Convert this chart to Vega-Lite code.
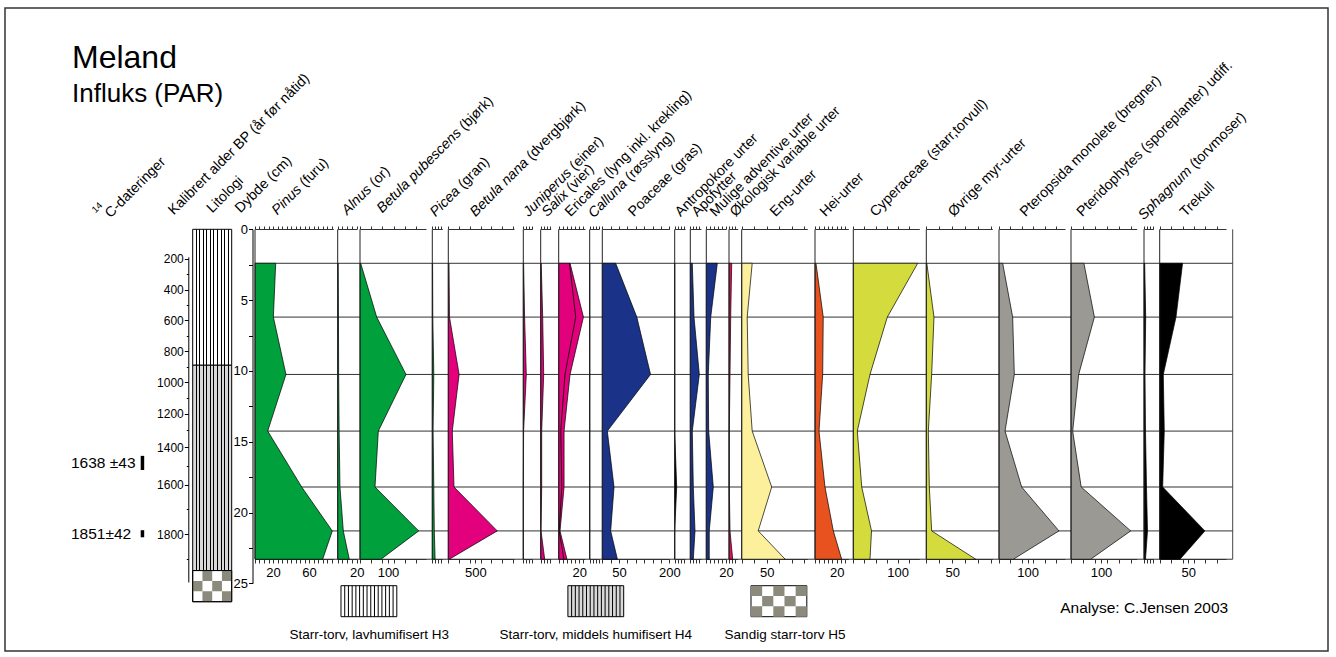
{
  "$schema": "https://vega.github.io/schema/vega-lite/v6.json",
  "width": 1323,
  "height": 643,
  "autosize": {"type": "none"},
  "padding": {"left": 5, "top": 8, "right": 8, "bottom": 6},
  "background": "#ffffff",
  "title": {
    "text": "Meland",
    "subtitle": "Influks (PAR)",
    "orient": "top",
    "anchor": "start",
    "frame": "group",
    "dx": 67,
    "offset": -100,
    "font": "Liberation Sans",
    "fontSize": 32,
    "fontWeight": "normal",
    "color": "#000",
    "subtitleFont": "Liberation Sans",
    "subtitleFontSize": 26,
    "subtitleColor": "#000",
    "subtitlePadding": 6
  },
  "datasets": {
    "samples": [
      {"depth": 2.4, "Pinus": 23, "Alnus": 0.5, "Betula_pubescens": 2.5, "Picea": 0.3, "Betula_nana": 13, "Juniperus": 0.3, "Salix": 0.5, "Ericales": 11, "Ericales_inner": 10.5, "Calluna": 0, "Poaceae": 40, "Antropokore": 0, "Apofytter": 2, "Mulige_adventive": 11.2, "Okologisk_variable": 2.7, "Eng_urter": 21, "Hei_urter": 0.9, "Cyperaceae": 145, "Ovrige_myr_urter": 1, "Pteropsida": 12.8, "Pteridophytes": 43, "Sphagnum": 0.7, "Trekull": 40},
      {"depth": 6.2, "Pinus": 20.4, "Alnus": 0.8, "Betula_pubescens": 59.6, "Picea": 0.5, "Betula_nana": 22, "Juniperus": 1.3, "Salix": 2, "Ericales": 24, "Ericales_inner": 16.5, "Calluna": 0, "Poaceae": 103, "Antropokore": 0, "Apofytter": 3.7, "Mulige_adventive": 4.5, "Okologisk_variable": 1.7, "Eng_urter": 11, "Hei_urter": 7.6, "Cyperaceae": 76.6, "Ovrige_myr_urter": 14.8, "Pteropsida": 47.6, "Pteridophytes": 78, "Sphagnum": 1.7, "Trekull": 28.5},
      {"depth": 10.25, "Pinus": 34.4, "Alnus": 1, "Betula_pubescens": 164.3, "Picea": 1.5, "Betula_nana": 200, "Juniperus": 3, "Salix": 3, "Ericales": 11, "Ericales_inner": 6.1, "Calluna": 0, "Poaceae": 144, "Antropokore": 0, "Apofytter": 9, "Mulige_adventive": 2, "Okologisk_variable": 1, "Eng_urter": 13, "Hei_urter": 7.1, "Cyperaceae": 37.6, "Ovrige_myr_urter": 10.3, "Pteropsida": 53.4, "Pteridophytes": 25.6, "Sphagnum": 1, "Trekull": 6.3},
      {"depth": 14.25, "Pinus": 14.1, "Alnus": 1.5, "Betula_pubescens": 65.4, "Picea": 0.8, "Betula_nana": 74, "Juniperus": 0.3, "Salix": 1, "Ericales": 5.2, "Ericales_inner": 2, "Calluna": 0, "Poaceae": 15, "Antropokore": 0, "Apofytter": 2, "Mulige_adventive": 2.4, "Okologisk_variable": 0.3, "Eng_urter": 21, "Hei_urter": 3.7, "Cyperaceae": 9, "Ovrige_myr_urter": 3.9, "Pteropsida": 21, "Pteridophytes": 5.6, "Sphagnum": 1.5, "Trekull": 8},
      {"depth": 18.2, "Pinus": 51.9, "Alnus": 2.4, "Betula_pubescens": 53.6, "Picea": 1.5, "Betula_nana": 106, "Juniperus": 0, "Salix": 1, "Ericales": 5.2, "Ericales_inner": 3, "Calluna": 0, "Poaceae": 35, "Antropokore": 2, "Apofytter": 3, "Mulige_adventive": 7.1, "Okologisk_variable": 0.3, "Eng_urter": 60, "Hei_urter": 9.2, "Cyperaceae": 19, "Ovrige_myr_urter": 5.8, "Pteropsida": 79, "Pteridophytes": 34, "Sphagnum": 2.5, "Trekull": 5.2},
      {"depth": 21.3, "Pinus": 85.9, "Alnus": 5.9, "Betula_pubescens": 209.6, "Picea": 2, "Betula_nana": 907, "Juniperus": 0, "Salix": 0.3, "Ericales": 1.3, "Ericales_inner": 0.5, "Calluna": 0, "Poaceae": 25, "Antropokore": 0, "Apofytter": 4.7, "Mulige_adventive": 3, "Okologisk_variable": 1, "Eng_urter": 33, "Hei_urter": 16.9, "Cyperaceae": 41, "Ovrige_myr_urter": 10.3, "Pteropsida": 209, "Pteridophytes": 199, "Sphagnum": 3.5, "Trekull": 79},
      {"depth": 23.3, "Pinus": 75.2, "Alnus": 12.2, "Betula_pubescens": 75, "Picea": 2.8, "Betula_nana": 18.5, "Juniperus": 0, "Salix": 4, "Ericales": 8, "Ericales_inner": 5, "Calluna": 0, "Poaceae": 45, "Antropokore": 0, "Apofytter": 3, "Mulige_adventive": 3, "Okologisk_variable": 3.7, "Eng_urter": 87, "Hei_urter": 24.6, "Cyperaceae": 37.6, "Ovrige_myr_urter": 95, "Pteropsida": 50, "Pteridophytes": 65.6, "Sphagnum": 1.5, "Trekull": 35.5}
    ],
    "frame": [{}],
    "credit": [{"text": "Analyse: C.Jensen 2003"}],
    "litho": [
      {"unit": "H3", "top": 0, "bottom": 9.6},
      {"unit": "H4", "top": 9.6, "bottom": 24.1},
      {"unit": "H5", "top": 24.1, "bottom": 26.3}
    ],
    "dates": [
      {"date": "1638 ±43", "depth": 16.5, "top": 16.0, "bottom": 17.0},
      {"date": "1851±42", "depth": 21.5, "top": 21.25, "bottom": 21.75}
    ],
    "key": [
      {"slot": 0, "unit": "H3", "label": "Starr-torv, lavhumifisert H3"},
      {"slot": 1, "unit": "H4", "label": "Starr-torv, middels humifisert H4"},
      {"slot": 2, "unit": "H5", "label": "Sandig starr-torv H5"}
    ]
  },
  "data": {"name": "samples"},
  "resolve": {
    "scale": {"x": "independent", "y": "independent"},
    "axis": {"x": "independent", "y": "independent"}
  },
  "layer": [
    {
      "mark": {"type": "rule", "color": "#333", "strokeWidth": 1},
      "encoding": {
        "x": {"datum": 0, "type": "quantitative", "scale": {"domain": [0, 1], "range": [250, 1227.7], "nice": false}, "axis": null},
        "x2": {"datum": 1},
        "y": {"field": "depth", "type": "quantitative", "scale": {"domain": [0, 25], "range": [221.3, 575.3], "nice": false},
          "axis": {"orient": "left", "offset": -247.5, "values": [0, 2.5, 5, 7.5, 10, 12.5, 15, 17.5, 20, 22.5, 25], "labelExpr": "datum.value % 5 === 0 ? datum.label : ''", "tickSize": 4, "labelPadding": 1, "domainColor": "#000", "tickColor": "#000", "title": "Dybde (cm)", "titleX": -12.5, "titleY": 205}}
      }
    },
    {
      "data": {"name": "frame"},
      "mark": {"type": "rule", "color": "#444", "strokeWidth": 1},
      "encoding": {
        "x": {"datum": 1, "type": "quantitative", "scale": {"domain": [0, 1], "range": [250, 1227.7], "nice": false}, "axis": null},
        "y": {"datum": 0, "type": "quantitative", "scale": {"domain": [0, 25], "range": [221.3, 575.3], "nice": false}, "axis": null},
        "y2": {"datum": 23.3}
      }
    },
    {
      "data": {"name": "credit"},
      "mark": {"type": "text", "align": "right", "baseline": "middle", "dx": -4.5, "fontSize": 15.5, "font": "Liberation Sans", "color": "#000"},
      "encoding": {
        "x": {"datum": 1, "type": "quantitative", "scale": {"domain": [0, 1], "range": [250, 1227.7], "nice": false}, "axis": null},
        "y": {"datum": 26.74, "type": "quantitative", "scale": {"domain": [0, 25], "range": [221.3, 575.3], "nice": false}, "axis": null},
        "text": {"field": "text"}
      }
    },
    {
      "data": {"name": "frame"},
      "mark": {"type": "rule", "opacity": 0},
      "encoding": {
        "x": {"datum": 0, "type": "quantitative", "scale": {"domain": [0, 1], "range": [183.3, 184.3], "nice": false}, "axis": null},
        "y": {"datum": 200, "type": "quantitative",
          "scale": {"domain": [190, 200, 400, 600, 800, 1000, 1200, 1400, 1600, 1800, 1990], "range": [248.8, 250.5, 281.5, 312.3, 343.2, 374, 405.5, 439, 476.5, 526.3, 574], "nice": false},
          "axis": {"orient": "left", "offset": -183.3, "values": [200, 300, 400, 500, 600, 700, 800, 900, 1000, 1100, 1200, 1300, 1400, 1500, 1600, 1700, 1800, 1900], "format": "d", "labelExpr": "datum.value % 200 === 0 ? datum.label : ''", "tickSize": {"condition": {"test": "datum.value % 200 === 0", "value": 4}, "value": 2}, "labelFontSize": 12, "labelPadding": 1, "domainColor": "#000", "tickColor": "#000", "title": "Kalibrert alder BP (år før nåtid)", "titleX": -15, "titleY": 207}},
        "y2": {"datum": 1800}
      }
    },
    {
      "data": {"name": "litho"},
      "mark": {"type": "rect", "stroke": "#000", "strokeWidth": 1},
      "encoding": {
        "x": {"datum": 0, "type": "quantitative", "scale": {"domain": [0, 1], "range": [187.7, 226.7], "nice": false},
          "axis": {"orient": "top", "offset": -221, "domain": false, "ticks": false, "labels": false, "title": "Litologi", "titleX": 206.7, "titleY": -16}},
        "x2": {"datum": 1},
        "y": {"field": "top", "type": "quantitative", "scale": {"domain": [0, 25], "range": [221.3, 575.3], "nice": false}, "axis": null},
        "y2": {"field": "bottom"},
        "fill": {"condition": {"test": "datum.unit === 'H4'", "value": "#d9d9d9"}, "value": "#ffffff"}
      }
    },
    {
      "data": {"name": "litho"},
      "transform": [{"filter": "datum.unit !== 'H5'"}],
      "mark": {"type": "rect", "fill": {"gradient": "linear", "x1": 0, "y1": 0, "x2": 1, "y2": 0, "stops": [
        {"offset": 0, "color": "rgba(0,0,0,0)"},
        {"offset": 0.0779, "color": "rgba(0,0,0,0)"}, {"offset": 0.0779, "color": "#000"}, {"offset": 0.1039, "color": "#000"}, {"offset": 0.1039, "color": "rgba(0,0,0,0)"},
        {"offset": 0.1688, "color": "rgba(0,0,0,0)"}, {"offset": 0.1688, "color": "#000"}, {"offset": 0.1948, "color": "#000"}, {"offset": 0.1948, "color": "rgba(0,0,0,0)"},
        {"offset": 0.2597, "color": "rgba(0,0,0,0)"}, {"offset": 0.2597, "color": "#000"}, {"offset": 0.2857, "color": "#000"}, {"offset": 0.2857, "color": "rgba(0,0,0,0)"},
        {"offset": 0.3506, "color": "rgba(0,0,0,0)"}, {"offset": 0.3506, "color": "#000"}, {"offset": 0.3766, "color": "#000"}, {"offset": 0.3766, "color": "rgba(0,0,0,0)"},
        {"offset": 0.4415, "color": "rgba(0,0,0,0)"}, {"offset": 0.4415, "color": "#000"}, {"offset": 0.4675, "color": "#000"}, {"offset": 0.4675, "color": "rgba(0,0,0,0)"},
        {"offset": 0.5325, "color": "rgba(0,0,0,0)"}, {"offset": 0.5325, "color": "#000"}, {"offset": 0.5585, "color": "#000"}, {"offset": 0.5585, "color": "rgba(0,0,0,0)"},
        {"offset": 0.6234, "color": "rgba(0,0,0,0)"}, {"offset": 0.6234, "color": "#000"}, {"offset": 0.6494, "color": "#000"}, {"offset": 0.6494, "color": "rgba(0,0,0,0)"},
        {"offset": 0.7143, "color": "rgba(0,0,0,0)"}, {"offset": 0.7143, "color": "#000"}, {"offset": 0.7403, "color": "#000"}, {"offset": 0.7403, "color": "rgba(0,0,0,0)"},
        {"offset": 0.8052, "color": "rgba(0,0,0,0)"}, {"offset": 0.8052, "color": "#000"}, {"offset": 0.8312, "color": "#000"}, {"offset": 0.8312, "color": "rgba(0,0,0,0)"},
        {"offset": 0.8961, "color": "rgba(0,0,0,0)"}, {"offset": 0.8961, "color": "#000"}, {"offset": 0.9221, "color": "#000"}, {"offset": 0.9221, "color": "rgba(0,0,0,0)"},
        {"offset": 1, "color": "rgba(0,0,0,0)"}
      ]}},
      "encoding": {
        "x": {"datum": 0, "type": "quantitative", "scale": {"domain": [0, 1], "range": [187.7, 226.7], "nice": false}, "axis": null},
        "x2": {"datum": 1},
        "y": {"field": "top", "type": "quantitative", "scale": {"domain": [0, 25], "range": [221.3, 575.3], "nice": false}, "axis": null},
        "y2": {"field": "bottom"}
      }
    },
    {
      "data": {"name": "litho"},
      "transform": [{"filter": "datum.unit === 'H5'"}],
      "mark": {"type": "point", "shape": "M-1.95,0H0V2.08H-1.95Z M1.95,0H3.9V2.08H1.95Z M-3.9,2.08H-1.95V4.16H-3.9Z M0,2.08H1.95V4.16H0Z M-1.95,4.16H0V6.24H-1.95Z M1.95,4.16H3.9V6.24H1.95Z", "size": 100, "filled": true, "color": "#8b8a7c", "fill": "#8b8a7c", "strokeWidth": 0, "opacity": 1},
      "encoding": {
        "x": {"datum": 0.5, "type": "quantitative", "scale": {"domain": [0, 1], "range": [187.7, 226.7], "nice": false}, "axis": null},
        "y": {"field": "top", "type": "quantitative", "scale": {"domain": [0, 25], "range": [221.3, 575.3], "nice": false}, "axis": null}
      }
    },
    {
      "data": {"name": "litho"},
      "transform": [{"filter": "datum.unit === 'H5'"}],
      "mark": {"type": "rect", "fillOpacity": 0, "stroke": "#000", "strokeWidth": 1},
      "encoding": {
        "x": {"datum": 0, "type": "quantitative", "scale": {"domain": [0, 1], "range": [187.7, 226.7], "nice": false}, "axis": null},
        "x2": {"datum": 1},
        "y": {"field": "top", "type": "quantitative", "scale": {"domain": [0, 25], "range": [221.3, 575.3], "nice": false}, "axis": null},
        "y2": {"field": "bottom"}
      }
    },
    {
      "data": {"name": "dates"},
      "mark": {"type": "text", "align": "left", "baseline": "middle", "fontSize": 15.5, "font": "Liberation Sans", "color": "#000"},
      "encoding": {
        "x": {"datum": 0, "type": "quantitative", "scale": {"domain": [0, 1], "range": [66, 67], "nice": false},
          "axis": {"orient": "top", "offset": -221, "domain": false, "ticks": false, "labels": false, "title": "C-dateringer", "titleX": 105, "titleY": -11}},
        "y": {"field": "depth", "type": "quantitative", "scale": {"domain": [0, 25], "range": [221.3, 575.3], "nice": false}, "axis": null},
        "text": {"field": "date"}
      }
    },
    {
      "data": {"name": "dates"},
      "mark": {"type": "rect", "color": "#000"},
      "encoding": {
        "x": {"datum": 0, "type": "quantitative", "scale": {"domain": [0, 1], "range": [135.7, 139.2], "nice": false},
          "axis": {"orient": "top", "offset": -221, "domain": false, "ticks": false, "labels": false, "title": "14", "titleFontSize": 9.5, "titleX": 90, "titleY": -16}},
        "x2": {"datum": 1},
        "y": {"field": "top", "type": "quantitative", "scale": {"domain": [0, 25], "range": [221.3, 575.3], "nice": false}, "axis": null},
        "y2": {"field": "bottom"}
      }
    },

    {"mark": {"type": "area", "orient": "horizontal", "fill": "#00a03c", "stroke": "#000", "strokeWidth": 0.7},
     "encoding": {"y": {"field": "depth", "type": "quantitative", "scale": {"domain": [0, 25], "range": [221.3, 575.3], "nice": false}, "axis": null},
       "x": {"field": "Pinus", "type": "quantitative", "scale": {"domain": [0, 87], "range": [250, 328.3], "nice": false},
         "axis": {"orient": "bottom", "offset": -92, "values": [0, 5, 10, 15, 20, 25, 30, 35, 40, 45, 50, 55, 60, 65, 70, 75, 80, 85], "labelExpr": "datum.value === 20 || datum.value === 60 ? datum.label : ''", "title": "(furu)", "titleX": 299.6, "titleY": -371.9}}}},
    {"data": {"name": "frame"}, "mark": {"type": "rule", "color": "#222", "strokeWidth": 1},
     "encoding": {"x": {"datum": 0, "type": "quantitative", "scale": {"domain": [0, 87], "range": [250, 328.3], "nice": false},
         "axis": {"orient": "top", "offset": -221, "values": [0, 5, 10, 15, 20, 25, 30, 35, 40, 45, 50, 55, 60, 65, 70, 75, 80, 85], "labels": false, "title": "Pinus", "titleFontStyle": "italic", "titleX": 271.7, "titleY": -14}},
       "y": {"datum": 0, "type": "quantitative", "scale": {"domain": [0, 25], "range": [221.3, 575.3], "nice": false}, "axis": null}, "y2": {"datum": 23.3}}},

    {"mark": {"type": "area", "orient": "horizontal", "fill": "#00a03c", "stroke": "#000", "strokeWidth": 0.7},
     "encoding": {"y": {"field": "depth", "type": "quantitative", "scale": {"domain": [0, 25], "range": [221.3, 575.3], "nice": false}, "axis": null},
       "x": {"field": "Alnus", "type": "quantitative", "scale": {"domain": [0, 20], "range": [332.7, 351.7], "nice": false},
         "axis": {"orient": "bottom", "offset": -92, "values": [0, 5, 10, 15, 20], "labelExpr": "datum.value === 20 ? datum.label : ''", "title": "(or)", "titleX": 369.6, "titleY": -371.9}}}},
    {"data": {"name": "frame"}, "mark": {"type": "rule", "color": "#222", "strokeWidth": 1},
     "encoding": {"x": {"datum": 0, "type": "quantitative", "scale": {"domain": [0, 20], "range": [332.7, 351.7], "nice": false},
         "axis": {"orient": "top", "offset": -221, "values": [0, 5, 10, 15, 20], "labels": false, "title": "Alnus", "titleFontStyle": "italic", "titleX": 341.7, "titleY": -14}},
       "y": {"datum": 0, "type": "quantitative", "scale": {"domain": [0, 25], "range": [221.3, 575.3], "nice": false}, "axis": null}, "y2": {"datum": 23.3}}},

    {"mark": {"type": "area", "orient": "horizontal", "fill": "#00a03c", "stroke": "#000", "strokeWidth": 0.7},
     "encoding": {"y": {"field": "depth", "type": "quantitative", "scale": {"domain": [0, 25], "range": [221.3, 575.3], "nice": false}, "axis": null},
       "x": {"field": "Betula_pubescens", "type": "quantitative", "scale": {"domain": [0, 235.7], "range": [355, 421], "nice": false},
         "axis": {"orient": "bottom", "offset": -92, "values": [0, 40, 80, 100, 120, 160, 200], "labelExpr": "datum.value === 100 ? datum.label : ''", "title": "(bjørk)", "titleX": 459.3, "titleY": -428.6}}}},
    {"data": {"name": "frame"}, "mark": {"type": "rule", "color": "#222", "strokeWidth": 1},
     "encoding": {"x": {"datum": 0, "type": "quantitative", "scale": {"domain": [0, 235.7], "range": [355, 421], "nice": false},
         "axis": {"orient": "top", "offset": -221, "values": [0, 40, 80, 120, 160, 200], "labels": false, "title": "Betula pubescens", "titleFontStyle": "italic", "titleX": 376.7, "titleY": -16}},
       "y": {"datum": 0, "type": "quantitative", "scale": {"domain": [0, 25], "range": [221.3, 575.3], "nice": false}, "axis": null}, "y2": {"datum": 23.3}}},

    {"mark": {"type": "area", "orient": "horizontal", "fill": "#00a03c", "stroke": "#000", "strokeWidth": 0.7},
     "encoding": {"y": {"field": "depth", "type": "quantitative", "scale": {"domain": [0, 25], "range": [221.3, 575.3], "nice": false}, "axis": null},
       "x": {"field": "Picea", "type": "quantitative", "scale": {"domain": [0, 10], "range": [427.3, 437.3], "nice": false},
         "axis": {"orient": "bottom", "offset": -92, "values": [0, 3, 6, 9], "labels": false, "title": "(gran)", "titleX": 457.9, "titleY": -370.2}}}},
    {"data": {"name": "frame"}, "mark": {"type": "rule", "color": "#222", "strokeWidth": 1},
     "encoding": {"x": {"datum": 0, "type": "quantitative", "scale": {"domain": [0, 10], "range": [427.3, 437.3], "nice": false},
         "axis": {"orient": "top", "offset": -221, "values": [0, 3, 6, 9], "labels": false, "title": "Picea", "titleFontStyle": "italic", "titleX": 430, "titleY": -12.3}},
       "y": {"datum": 0, "type": "quantitative", "scale": {"domain": [0, 25], "range": [221.3, 575.3], "nice": false}, "axis": null}, "y2": {"datum": 23.3}}},

    {"mark": {"type": "area", "orient": "horizontal", "fill": "#e3007d", "stroke": "#000", "strokeWidth": 0.7},
     "encoding": {"y": {"field": "depth", "type": "quantitative", "scale": {"domain": [0, 25], "range": [221.3, 575.3], "nice": false}, "axis": null},
       "x": {"field": "Betula_nana", "type": "quantitative", "scale": {"domain": [0, 1216.7], "range": [443.3, 509], "nice": false},
         "axis": {"orient": "bottom", "offset": -92, "values": [0, 200, 400, 500, 600, 800, 1000, 1200], "labelExpr": "datum.value === 500 ? datum.label : ''", "title": "(dvergbjørk)", "titleX": 526.4, "titleY": -398.7}}}},
    {"data": {"name": "frame"}, "mark": {"type": "rule", "color": "#222", "strokeWidth": 1},
     "encoding": {"x": {"datum": 0, "type": "quantitative", "scale": {"domain": [0, 1216.7], "range": [443.3, 509], "nice": false},
         "axis": {"orient": "top", "offset": -221, "values": [0, 200, 400, 600, 800, 1000, 1200], "labels": false, "title": "Betula nana", "titleFontStyle": "italic", "titleX": 470, "titleY": -12.3}},
       "y": {"datum": 0, "type": "quantitative", "scale": {"domain": [0, 25], "range": [221.3, 575.3], "nice": false}, "axis": null}, "y2": {"datum": 23.3}}},

    {"mark": {"type": "area", "orient": "horizontal", "fill": "#e3007d", "stroke": "#000", "strokeWidth": 0.7},
     "encoding": {"y": {"field": "depth", "type": "quantitative", "scale": {"domain": [0, 25], "range": [221.3, 575.3], "nice": false}, "axis": null},
       "x": {"field": "Juniperus", "type": "quantitative", "scale": {"domain": [0, 9], "range": [518.3, 527.3], "nice": false},
         "axis": {"orient": "bottom", "offset": -92, "values": [0, 3, 6, 9], "labels": false, "title": "(einer)", "titleX": 569.6, "titleY": -388.6}}}},
    {"data": {"name": "frame"}, "mark": {"type": "rule", "color": "#222", "strokeWidth": 1},
     "encoding": {"x": {"datum": 0, "type": "quantitative", "scale": {"domain": [0, 9], "range": [518.3, 527.3], "nice": false},
         "axis": {"orient": "top", "offset": -221, "values": [0, 3, 6, 9], "labels": false, "title": "Juniperus", "titleFontStyle": "italic", "titleX": 523.3, "titleY": -12.3}},
       "y": {"datum": 0, "type": "quantitative", "scale": {"domain": [0, 25], "range": [221.3, 575.3], "nice": false}, "axis": null}, "y2": {"datum": 23.3}}},

    {"mark": {"type": "area", "orient": "horizontal", "fill": "#e3007d", "stroke": "#000", "strokeWidth": 0.7},
     "encoding": {"y": {"field": "depth", "type": "quantitative", "scale": {"domain": [0, 25], "range": [221.3, 575.3], "nice": false}, "axis": null},
       "x": {"field": "Salix", "type": "quantitative", "scale": {"domain": [0, 10], "range": [535.7, 545.7], "nice": false},
         "axis": {"orient": "bottom", "offset": -92, "values": [0, 3, 6, 9], "labels": false, "title": "(vier)", "titleX": 566.3, "titleY": -366.9}}}},
    {"data": {"name": "frame"}, "mark": {"type": "rule", "color": "#222", "strokeWidth": 1},
     "encoding": {"x": {"datum": 0, "type": "quantitative", "scale": {"domain": [0, 10], "range": [535.7, 545.7], "nice": false},
         "axis": {"orient": "top", "offset": -221, "values": [0, 3, 6, 9], "labels": false, "title": "Salix", "titleFontStyle": "italic", "titleX": 541.7, "titleY": -12.3}},
       "y": {"datum": 0, "type": "quantitative", "scale": {"domain": [0, 25], "range": [221.3, 575.3], "nice": false}, "axis": null}, "y2": {"datum": 23.3}}},

    {"mark": {"type": "area", "orient": "horizontal", "fill": "#e3007d", "stroke": "#000", "strokeWidth": 0.7},
     "encoding": {"y": {"field": "depth", "type": "quantitative", "scale": {"domain": [0, 25], "range": [221.3, 575.3], "nice": false}, "axis": null},
       "x": {"field": "Ericales", "type": "quantitative", "scale": {"domain": [0, 25.5], "range": [553.7, 580], "nice": false},
         "axis": {"orient": "bottom", "offset": -92, "values": [0, 4, 8, 12, 16, 20, 24], "labelExpr": "datum.value === 20 ? datum.label : ''", "title": null}}}},
    {"mark": {"type": "line", "color": "#000", "strokeWidth": 0.8},
     "encoding": {"y": {"field": "depth", "type": "quantitative", "scale": {"domain": [0, 25], "range": [221.3, 575.3], "nice": false}, "axis": null},
       "x": {"field": "Ericales_inner", "type": "quantitative", "scale": {"domain": [0, 25.5], "range": [553.7, 580], "nice": false}, "axis": null},
       "order": {"field": "depth"}}},
    {"data": {"name": "frame"}, "mark": {"type": "rule", "color": "#222", "strokeWidth": 1},
     "encoding": {"x": {"datum": 0, "type": "quantitative", "scale": {"domain": [0, 25.5], "range": [553.7, 580], "nice": false},
         "axis": {"orient": "top", "offset": -221, "values": [0, 4, 8, 12, 16, 20, 24], "labels": false, "title": "Ericales (lyng inkl. krekling)", "titleX": 565, "titleY": -12.3}},
       "y": {"datum": 0, "type": "quantitative", "scale": {"domain": [0, 25], "range": [221.3, 575.3], "nice": false}, "axis": null}, "y2": {"datum": 23.3}}},

    {"mark": {"type": "area", "orient": "horizontal", "fill": "#e3007d", "stroke": "#000", "strokeWidth": 0.7},
     "encoding": {"y": {"field": "depth", "type": "quantitative", "scale": {"domain": [0, 25], "range": [221.3, 575.3], "nice": false}, "axis": null},
       "x": {"field": "Calluna", "type": "quantitative", "scale": {"domain": [0, 9.3], "range": [584.7, 594], "nice": false},
         "axis": {"orient": "bottom", "offset": -92, "values": [0, 3, 6, 9], "labels": false, "title": "(røsslyng)", "titleX": 625.1, "titleY": -377.8}}}},
    {"data": {"name": "frame"}, "mark": {"type": "rule", "color": "#222", "strokeWidth": 1},
     "encoding": {"x": {"datum": 0, "type": "quantitative", "scale": {"domain": [0, 9.3], "range": [584.7, 594], "nice": false},
         "axis": {"orient": "top", "offset": -221, "values": [0, 3, 6, 9], "labels": false, "title": "Calluna", "titleFontStyle": "italic", "titleX": 588.3, "titleY": -11}},
       "y": {"datum": 0, "type": "quantitative", "scale": {"domain": [0, 25], "range": [221.3, 575.3], "nice": false}, "axis": null}, "y2": {"datum": 23.3}}},

    {"mark": {"type": "area", "orient": "horizontal", "fill": "#1a3287", "stroke": "#000", "strokeWidth": 0.7},
     "encoding": {"y": {"field": "depth", "type": "quantitative", "scale": {"domain": [0, 25], "range": [221.3, 575.3], "nice": false}, "axis": null},
       "x": {"field": "Poaceae", "type": "quantitative", "scale": {"domain": [0, 200], "range": [597.3, 664.3], "nice": false},
         "axis": {"orient": "bottom", "offset": -92, "values": [0, 25, 50, 75, 100, 125, 150, 175, 200], "labelExpr": "datum.value === 50 || datum.value === 200 ? datum.label : ''", "title": null}}}},
    {"data": {"name": "frame"}, "mark": {"type": "rule", "color": "#222", "strokeWidth": 1},
     "encoding": {"x": {"datum": 0, "type": "quantitative", "scale": {"domain": [0, 200], "range": [597.3, 664.3], "nice": false},
         "axis": {"orient": "top", "offset": -221, "values": [0, 25, 50, 75, 100, 125, 150, 175, 200], "labels": false, "title": "Poaceae (gras)", "titleX": 628.3, "titleY": -12.3}},
       "y": {"datum": 0, "type": "quantitative", "scale": {"domain": [0, 25], "range": [221.3, 575.3], "nice": false}, "axis": null}, "y2": {"datum": 23.3}}},

    {"mark": {"type": "area", "orient": "horizontal", "fill": "#000000", "stroke": "#000", "strokeWidth": 0.7},
     "encoding": {"y": {"field": "depth", "type": "quantitative", "scale": {"domain": [0, 25], "range": [221.3, 575.3], "nice": false}, "axis": null},
       "x": {"field": "Antropokore", "type": "quantitative", "scale": {"domain": [0, 10.3], "range": [669.7, 680], "nice": false},
         "axis": {"orient": "bottom", "offset": -92, "values": [0, 3, 6, 9], "labels": false, "title": null}}}},
    {"data": {"name": "frame"}, "mark": {"type": "rule", "color": "#222", "strokeWidth": 1},
     "encoding": {"x": {"datum": 0, "type": "quantitative", "scale": {"domain": [0, 10.3], "range": [669.7, 680], "nice": false},
         "axis": {"orient": "top", "offset": -221, "values": [0, 3, 6, 9], "labels": false, "title": "Antropokore urter", "titleX": 675, "titleY": -12.3}},
       "y": {"datum": 0, "type": "quantitative", "scale": {"domain": [0, 25], "range": [221.3, 575.3], "nice": false}, "axis": null}, "y2": {"datum": 23.3}}},

    {"mark": {"type": "area", "orient": "horizontal", "fill": "#1a3287", "stroke": "#000", "strokeWidth": 0.7},
     "encoding": {"y": {"field": "depth", "type": "quantitative", "scale": {"domain": [0, 25], "range": [221.3, 575.3], "nice": false}, "axis": null},
       "x": {"field": "Apofytter", "type": "quantitative", "scale": {"domain": [0, 10.7], "range": [685.3, 696], "nice": false},
         "axis": {"orient": "bottom", "offset": -92, "values": [0, 3, 6, 9], "labels": false, "title": null}}}},
    {"data": {"name": "frame"}, "mark": {"type": "rule", "color": "#222", "strokeWidth": 1},
     "encoding": {"x": {"datum": 0, "type": "quantitative", "scale": {"domain": [0, 10.7], "range": [685.3, 696], "nice": false},
         "axis": {"orient": "top", "offset": -221, "values": [0, 3, 6, 9], "labels": false, "title": "Apofytter", "titleX": 691.7, "titleY": -12.3}},
       "y": {"datum": 0, "type": "quantitative", "scale": {"domain": [0, 25], "range": [221.3, 575.3], "nice": false}, "axis": null}, "y2": {"datum": 23.3}}},

    {"mark": {"type": "area", "orient": "horizontal", "fill": "#1a3287", "stroke": "#000", "strokeWidth": 0.7},
     "encoding": {"y": {"field": "depth", "type": "quantitative", "scale": {"domain": [0, 25], "range": [221.3, 575.3], "nice": false}, "axis": null},
       "x": {"field": "Mulige_adventive", "type": "quantitative", "scale": {"domain": [0, 20], "range": [701.3, 721], "nice": false},
         "axis": {"orient": "bottom", "offset": -92, "values": [0, 4, 8, 12, 16, 20], "labelExpr": "datum.value === 20 ? datum.label : ''", "title": null}}}},
    {"data": {"name": "frame"}, "mark": {"type": "rule", "color": "#222", "strokeWidth": 1},
     "encoding": {"x": {"datum": 0, "type": "quantitative", "scale": {"domain": [0, 20], "range": [701.3, 721], "nice": false},
         "axis": {"orient": "top", "offset": -221, "values": [0, 4, 8, 12, 16, 20], "labels": false, "title": "Mulige adventive urter", "titleX": 710, "titleY": -12.3}},
       "y": {"datum": 0, "type": "quantitative", "scale": {"domain": [0, 25], "range": [221.3, 575.3], "nice": false}, "axis": null}, "y2": {"datum": 23.3}}},

    {"mark": {"type": "area", "orient": "horizontal", "fill": "#e0105e", "stroke": "#000", "strokeWidth": 0.7},
     "encoding": {"y": {"field": "depth", "type": "quantitative", "scale": {"domain": [0, 25], "range": [221.3, 575.3], "nice": false}, "axis": null},
       "x": {"field": "Okologisk_variable", "type": "quantitative", "scale": {"domain": [0, 8.7], "range": [724, 732.7], "nice": false},
         "axis": {"orient": "bottom", "offset": -92, "values": [0, 3, 6], "labels": false, "title": null}}}},
    {"data": {"name": "frame"}, "mark": {"type": "rule", "color": "#222", "strokeWidth": 1},
     "encoding": {"x": {"datum": 0, "type": "quantitative", "scale": {"domain": [0, 8.7], "range": [724, 732.7], "nice": false},
         "axis": {"orient": "top", "offset": -221, "values": [0, 3, 6], "labels": false, "title": "Økologisk variable urter", "titleX": 730, "titleY": -12.3}},
       "y": {"datum": 0, "type": "quantitative", "scale": {"domain": [0, 25], "range": [221.3, 575.3], "nice": false}, "axis": null}, "y2": {"datum": 23.3}}},

    {"mark": {"type": "area", "orient": "horizontal", "fill": "#fdf09d", "stroke": "#000", "strokeWidth": 0.7},
     "encoding": {"y": {"field": "depth", "type": "quantitative", "scale": {"domain": [0, 25], "range": [221.3, 575.3], "nice": false}, "axis": null},
       "x": {"field": "Eng_urter", "type": "quantitative", "scale": {"domain": [0, 131.2], "range": [736.7, 802.3], "nice": false},
         "axis": {"orient": "bottom", "offset": -92, "values": [0, 25, 50, 75, 100, 125], "labelExpr": "datum.value === 50 ? datum.label : ''", "title": null}}}},
    {"data": {"name": "frame"}, "mark": {"type": "rule", "color": "#222", "strokeWidth": 1},
     "encoding": {"x": {"datum": 0, "type": "quantitative", "scale": {"domain": [0, 131.2], "range": [736.7, 802.3], "nice": false},
         "axis": {"orient": "top", "offset": -221, "values": [0, 25, 50, 75, 100, 125], "labels": false, "title": "Eng-urter", "titleX": 770, "titleY": -12.3}},
       "y": {"datum": 0, "type": "quantitative", "scale": {"domain": [0, 25], "range": [221.3, 575.3], "nice": false}, "axis": null}, "y2": {"datum": 23.3}}},

    {"mark": {"type": "area", "orient": "horizontal", "fill": "#e8521f", "stroke": "#000", "strokeWidth": 0.7},
     "encoding": {"y": {"field": "depth", "type": "quantitative", "scale": {"domain": [0, 25], "range": [221.3, 575.3], "nice": false}, "axis": null},
       "x": {"field": "Hei_urter", "type": "quantitative", "scale": {"domain": [0, 30.7], "range": [810, 843.3], "nice": false},
         "axis": {"orient": "bottom", "offset": -92, "values": [0, 4, 8, 12, 16, 20, 24, 28], "labelExpr": "datum.value === 20 ? datum.label : ''", "title": null}}}},
    {"data": {"name": "frame"}, "mark": {"type": "rule", "color": "#222", "strokeWidth": 1},
     "encoding": {"x": {"datum": 0, "type": "quantitative", "scale": {"domain": [0, 30.7], "range": [810, 843.3], "nice": false},
         "axis": {"orient": "top", "offset": -221, "values": [0, 4, 8, 12, 16, 20, 24, 28], "labels": false, "title": "Hei-urter", "titleX": 820, "titleY": -12.3}},
       "y": {"datum": 0, "type": "quantitative", "scale": {"domain": [0, 25], "range": [221.3, 575.3], "nice": false}, "axis": null}, "y2": {"datum": 23.3}}},

    {"mark": {"type": "area", "orient": "horizontal", "fill": "#d4db3d", "stroke": "#000", "strokeWidth": 0.7},
     "encoding": {"y": {"field": "depth", "type": "quantitative", "scale": {"domain": [0, 25], "range": [221.3, 575.3], "nice": false}, "axis": null},
       "x": {"field": "Cyperaceae", "type": "quantitative", "scale": {"domain": [0, 148.6], "range": [848.3, 914.3], "nice": false},
         "axis": {"orient": "bottom", "offset": -92, "values": [0, 25, 50, 75, 100, 125], "labelExpr": "datum.value === 100 ? datum.label : ''", "title": null}}}},
    {"data": {"name": "frame"}, "mark": {"type": "rule", "color": "#222", "strokeWidth": 1},
     "encoding": {"x": {"datum": 0, "type": "quantitative", "scale": {"domain": [0, 148.6], "range": [848.3, 914.3], "nice": false},
         "axis": {"orient": "top", "offset": -221, "values": [0, 25, 50, 75, 100, 125], "labels": false, "title": "Cyperaceae (starr,torvull)", "titleX": 870, "titleY": -12.3}},
       "y": {"datum": 0, "type": "quantitative", "scale": {"domain": [0, 25], "range": [221.3, 575.3], "nice": false}, "axis": null}, "y2": {"datum": 23.3}}},

    {"mark": {"type": "area", "orient": "horizontal", "fill": "#d4db3d", "stroke": "#000", "strokeWidth": 0.7},
     "encoding": {"y": {"field": "depth", "type": "quantitative", "scale": {"domain": [0, 25], "range": [221.3, 575.3], "nice": false}, "axis": null},
       "x": {"field": "Ovrige_myr_urter", "type": "quantitative", "scale": {"domain": [0, 126.9], "range": [921.3, 987.3], "nice": false},
         "axis": {"orient": "bottom", "offset": -92, "values": [0, 25, 50, 75, 100, 125], "labelExpr": "datum.value === 50 ? datum.label : ''", "title": null}}}},
    {"data": {"name": "frame"}, "mark": {"type": "rule", "color": "#222", "strokeWidth": 1},
     "encoding": {"x": {"datum": 0, "type": "quantitative", "scale": {"domain": [0, 126.9], "range": [921.3, 987.3], "nice": false},
         "axis": {"orient": "top", "offset": -221, "values": [0, 25, 50, 75, 100, 125], "labels": false, "title": "Øvrige myr-urter", "titleX": 948.3, "titleY": -12.3}},
       "y": {"datum": 0, "type": "quantitative", "scale": {"domain": [0, 25], "range": [221.3, 575.3], "nice": false}, "axis": null}, "y2": {"datum": 23.3}}},

    {"mark": {"type": "area", "orient": "horizontal", "fill": "#9a9994", "stroke": "#000", "strokeWidth": 0.7},
     "encoding": {"y": {"field": "depth", "type": "quantitative", "scale": {"domain": [0, 25], "range": [221.3, 575.3], "nice": false}, "axis": null},
       "x": {"field": "Pteropsida", "type": "quantitative", "scale": {"domain": [0, 230], "range": [994, 1060], "nice": false},
         "axis": {"orient": "bottom", "offset": -92, "values": [0, 40, 80, 100, 120, 160, 200], "labelExpr": "datum.value === 100 ? datum.label : ''", "title": null}}}},
    {"data": {"name": "frame"}, "mark": {"type": "rule", "color": "#222", "strokeWidth": 1},
     "encoding": {"x": {"datum": 0, "type": "quantitative", "scale": {"domain": [0, 230], "range": [994, 1060], "nice": false},
         "axis": {"orient": "top", "offset": -221, "values": [0, 40, 80, 120, 160, 200], "labels": false, "title": "Pteropsida monolete (bregner)", "titleX": 1020, "titleY": -12.3}},
       "y": {"datum": 0, "type": "quantitative", "scale": {"domain": [0, 25], "range": [221.3, 575.3], "nice": false}, "axis": null}, "y2": {"datum": 23.3}}},

    {"mark": {"type": "area", "orient": "horizontal", "fill": "#9a9994", "stroke": "#000", "strokeWidth": 0.7},
     "encoding": {"y": {"field": "depth", "type": "quantitative", "scale": {"domain": [0, 25], "range": [221.3, 575.3], "nice": false}, "axis": null},
       "x": {"field": "Pteridophytes", "type": "quantitative", "scale": {"domain": [0, 219], "range": [1066, 1131.7], "nice": false},
         "axis": {"orient": "bottom", "offset": -92, "values": [0, 40, 80, 100, 120, 160, 200], "labelExpr": "datum.value === 100 ? datum.label : ''", "title": null}}}},
    {"data": {"name": "frame"}, "mark": {"type": "rule", "color": "#222", "strokeWidth": 1},
     "encoding": {"x": {"datum": 0, "type": "quantitative", "scale": {"domain": [0, 219], "range": [1066, 1131.7], "nice": false},
         "axis": {"orient": "top", "offset": -221, "values": [0, 40, 80, 120, 160, 200], "labels": false, "title": "Pteridophytes (sporeplanter) udiff.", "titleX": 1076.7, "titleY": -12.3}},
       "y": {"datum": 0, "type": "quantitative", "scale": {"domain": [0, 25], "range": [221.3, 575.3], "nice": false}, "axis": null}, "y2": {"datum": 23.3}}},

    {"mark": {"type": "area", "orient": "horizontal", "fill": "#000000", "stroke": "#000", "strokeWidth": 0.7},
     "encoding": {"y": {"field": "depth", "type": "quantitative", "scale": {"domain": [0, 25], "range": [221.3, 575.3], "nice": false}, "axis": null},
       "x": {"field": "Sphagnum", "type": "quantitative", "scale": {"domain": [0, 9.3], "range": [1139, 1148.3], "nice": false},
         "axis": {"orient": "bottom", "offset": -92, "values": [0, 3, 6, 9], "labels": false, "title": "(torvmoser)", "titleX": 1189.7, "titleY": -390.4}}}},
    {"data": {"name": "frame"}, "mark": {"type": "rule", "color": "#222", "strokeWidth": 1},
     "encoding": {"x": {"datum": 0, "type": "quantitative", "scale": {"domain": [0, 9.3], "range": [1139, 1148.3], "nice": false},
         "axis": {"orient": "top", "offset": -221, "values": [0, 3, 6, 9], "labels": false, "title": "Sphagnum", "titleFontStyle": "italic", "titleX": 1138.3, "titleY": -9}},
       "y": {"datum": 0, "type": "quantitative", "scale": {"domain": [0, 25], "range": [221.3, 575.3], "nice": false}, "axis": null}, "y2": {"datum": 23.3}}},

    {"mark": {"type": "area", "orient": "horizontal", "fill": "#000000", "stroke": "#000", "strokeWidth": 0.7},
     "encoding": {"y": {"field": "depth", "type": "quantitative", "scale": {"domain": [0, 25], "range": [221.3, 575.3], "nice": false}, "axis": null},
       "x": {"field": "Trekull", "type": "quantitative", "scale": {"domain": [0, 115.9], "range": [1154.7, 1221], "nice": false},
         "axis": {"orient": "bottom", "offset": -92, "values": [0, 20, 40, 50, 60, 80, 100], "labelExpr": "datum.value === 50 ? datum.label : ''", "title": null}}}},
    {"data": {"name": "frame"}, "mark": {"type": "rule", "color": "#222", "strokeWidth": 1},
     "encoding": {"x": {"datum": 0, "type": "quantitative", "scale": {"domain": [0, 115.9], "range": [1154.7, 1221], "nice": false},
         "axis": {"orient": "top", "offset": -221, "values": [0, 20, 40, 60, 80, 100], "labels": false, "title": "Trekull", "titleX": 1180, "titleY": -12.3}},
       "y": {"datum": 0, "type": "quantitative", "scale": {"domain": [0, 25], "range": [221.3, 575.3], "nice": false}, "axis": null}, "y2": {"datum": 23.3}}},

    {
      "data": {"name": "key"},
      "mark": {"type": "point", "size": 961, "filled": true, "stroke": "#000", "strokeWidth": 1, "opacity": 1},
      "encoding": {
        "x": {"field": "slot", "type": "quantitative", "scale": {"domain": [0, 1, 2], "range": [363.9, 590.8, 773.9], "nice": false}, "axis": null},
        "y": {"datum": 0, "type": "quantitative", "scale": {"domain": [0, 1], "range": [593.2, 627], "nice": false}, "axis": null},
        "shape": {"field": "unit", "type": "nominal", "scale": {"domain": ["H3", "H4", "H5"], "range": [
          "M-1.8,-1H1.8V1H-1.8Z M-1.56,-1V1 M-1.32,-1V1 M-1.08,-1V1 M-0.84,-1V1 M-0.6,-1V1 M-0.36,-1V1 M-0.12,-1V1 M0.12,-1V1 M0.36,-1V1 M0.6,-1V1 M0.84,-1V1 M1.08,-1V1 M1.32,-1V1 M1.56,-1V1",
          "M-1.8,-1H1.8V1H-1.8Z M-1.56,-1V1 M-1.32,-1V1 M-1.08,-1V1 M-0.84,-1V1 M-0.6,-1V1 M-0.36,-1V1 M-0.12,-1V1 M0.12,-1V1 M0.36,-1V1 M0.6,-1V1 M0.84,-1V1 M1.08,-1V1 M1.32,-1V1 M1.56,-1V1",
          "M-1.8,-1H1.8V1H-1.8Z"]}, "legend": null},
        "fill": {"field": "unit", "type": "nominal", "scale": {"domain": ["H3", "H4", "H5"], "range": ["#ffffff", "#d9d9d9", "#ffffff"]}, "legend": null}
      }
    },
    {
      "data": {"name": "key"},
      "transform": [{"filter": "datum.unit === 'H5'"}],
      "mark": {"type": "point", "size": 961, "filled": true, "color": "#8b8a7c", "fill": "#8b8a7c", "strokeWidth": 0, "opacity": 1,
        "shape": "M-1.8,-1H-1.08V-0.333H-1.8Z M-0.36,-1H0.36V-0.333H-0.36Z M1.08,-1H1.8V-0.333H1.08Z M-1.08,-0.333H-0.36V0.333H-1.08Z M0.36,-0.333H1.08V0.333H0.36Z M-1.8,0.333H-1.08V1H-1.8Z M-0.36,0.333H0.36V1H-0.36Z M1.08,0.333H1.8V1H1.08Z"},
      "encoding": {
        "x": {"field": "slot", "type": "quantitative", "scale": {"domain": [0, 1, 2], "range": [363.9, 590.8, 773.9], "nice": false}, "axis": null},
        "y": {"datum": 0, "type": "quantitative", "scale": {"domain": [0, 1], "range": [593.2, 627], "nice": false}, "axis": null}
      }
    },
    {
      "data": {"name": "key"},
      "mark": {"type": "text", "align": "center", "baseline": "middle", "fontSize": 13.5, "font": "Liberation Sans", "color": "#000"},
      "encoding": {
        "x": {"field": "slot", "type": "quantitative", "scale": {"domain": [0, 1, 2], "range": [364.2, 590.8, 780], "nice": false}, "axis": null},
        "y": {"datum": 1, "type": "quantitative", "scale": {"domain": [0, 1], "range": [593.2, 627], "nice": false}, "axis": null},
        "text": {"field": "label"}
      }
    }
  ],
  "config": {
    "view": {"stroke": "#333", "strokeWidth": 1.5},
    "font": "Liberation Sans",
    "axis": {
      "grid": false,
      "labelFont": "Liberation Sans",
      "titleFont": "Liberation Sans",
      "labelColor": "#000",
      "titleColor": "#000",
      "titleFontWeight": "normal",
      "titleFontSize": 14.2,
      "labelFontSize": 13,
      "domainColor": "#333",
      "tickColor": "#333",
      "domainWidth": 1,
      "tickWidth": 1,
      "labelFlush": false,
      "labelOverlap": false,
      "labelBound": false,
      "titleAngle": -45,
      "titleAlign": "left",
      "titleBaseline": "alphabetic",
      "titleLimit": 1000
    },
    "axisTop": {"tickSize": 3},
    "axisBottom": {"tickSize": 4, "labelPadding": 3}
  }
}
